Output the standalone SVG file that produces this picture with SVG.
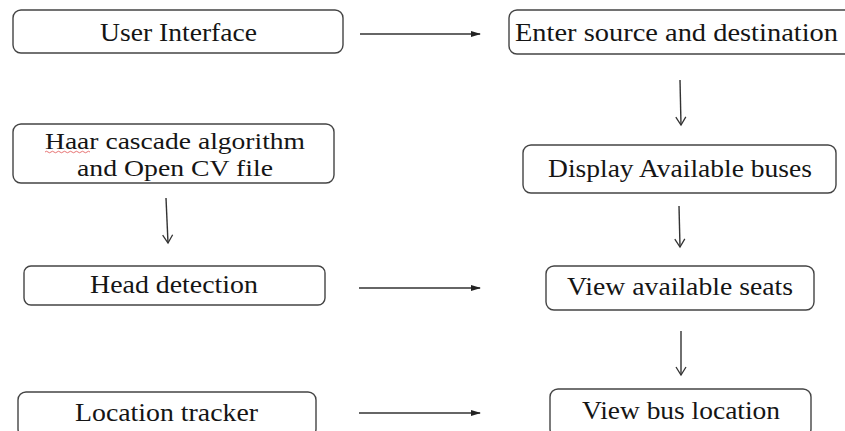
<svg xmlns="http://www.w3.org/2000/svg" width="845" height="431" viewBox="0 0 845 431">
<style>
.box{fill:#fff;stroke:#444;stroke-width:1.4}
.t{font-family:'Liberation Serif','Times New Roman',serif;font-size:26px;fill:#151515}
.t2{font-size:23px}
.c{stroke:#333;stroke-width:1.4;fill:none}
</style>
<defs>
<marker id="fh" markerWidth="10" markerHeight="8" refX="9" refY="4" orient="auto" markerUnits="userSpaceOnUse">
<path d="M0,1 L10,4 L0,7 Z" fill="#222"/>
</marker>
<marker id="oh" markerWidth="12" markerHeight="12" refX="10" refY="6" orient="auto" markerUnits="userSpaceOnUse">
<path d="M2,1 L10,6 L2,11" fill="none" stroke="#333" stroke-width="1.3"/>
</marker>
</defs>
<rect width="845" height="431" fill="#fff"/>
<g id="user-interface">
<rect class="box" x="13" y="10" width="330" height="43" rx="8"/>
<text class="t" x="100" y="41" textLength="157" lengthAdjust="spacingAndGlyphs">User Interface</text>
</g>
<g id="enter-source">
<rect class="box" x="509" y="10" width="345" height="44" rx="8"/>
<text class="t" x="515" y="41" textLength="323" lengthAdjust="spacingAndGlyphs">Enter source and destination</text>
</g>
<g id="haar">
<rect class="box" x="13" y="124" width="321" height="59" rx="8"/>
<text class="t t2" x="45" y="149" textLength="260" lengthAdjust="spacingAndGlyphs">Haar cascade algorithm</text>
<text class="t t2" x="77" y="176" textLength="196" lengthAdjust="spacingAndGlyphs">and Open CV file</text>
<path d="M45,152 q1.5,-1.5 3,0 t3,0 t3,0 t3,0 t3,0 t3,0 t3,0 t3,0 t3,0 t3,0 t3,0 t3,0 t3,0 t3,0 t3,0" fill="none" stroke="#e05050" stroke-width="0.8"/>
</g>
<g id="display-buses">
<rect class="box" x="523" y="145" width="313" height="48" rx="8"/>
<text class="t" x="548" y="177" textLength="264" lengthAdjust="spacingAndGlyphs">Display Available buses</text>
</g>
<g id="head-detection">
<rect class="box" x="24" y="266" width="301" height="39" rx="7"/>
<text class="t" x="90" y="293" textLength="168" lengthAdjust="spacingAndGlyphs">Head detection</text>
</g>
<g id="view-seats">
<rect class="box" x="546" y="266" width="268" height="44" rx="8"/>
<text class="t" x="567" y="295" textLength="226" lengthAdjust="spacingAndGlyphs">View available seats</text>
</g>
<g id="location-tracker">
<rect class="box" x="18" y="392" width="298" height="45" rx="8"/>
<text class="t" x="75" y="421" textLength="183" lengthAdjust="spacingAndGlyphs">Location tracker</text>
</g>
<g id="view-bus-location">
<rect class="box" x="550" y="389" width="261" height="48" rx="8"/>
<text class="t" x="582" y="419" textLength="198" lengthAdjust="spacingAndGlyphs">View bus location</text>
</g>
<g id="connectors">
<line class="c" x1="360" y1="34" x2="480" y2="34" marker-end="url(#fh)"/>
<line class="c" x1="680" y1="80" x2="681" y2="125" marker-end="url(#oh)"/>
<line class="c" x1="166" y1="198" x2="168" y2="243" marker-end="url(#oh)"/>
<line class="c" x1="679" y1="206" x2="680" y2="247" marker-end="url(#oh)"/>
<line class="c" x1="359" y1="288" x2="480" y2="288" marker-end="url(#fh)"/>
<line class="c" x1="681" y1="331" x2="681" y2="375" stroke-width="1.8" marker-end="url(#oh)"/>
<line class="c" x1="359" y1="413" x2="480" y2="413" marker-end="url(#fh)"/>
</g>
</svg>
